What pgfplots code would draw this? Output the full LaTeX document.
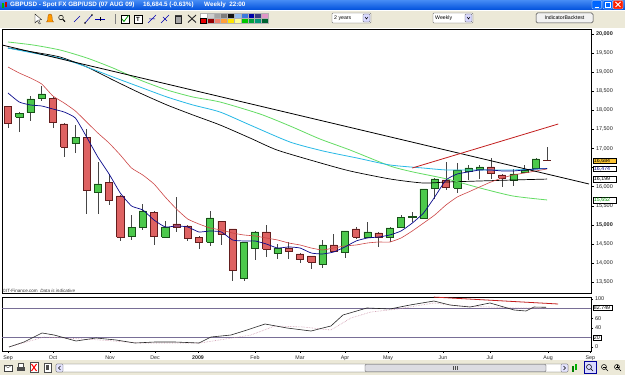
\documentclass[border=0pt]{standalone}
\usepackage{fontspec}
\setmainfont{Liberation Sans}
\usepackage{pgfplots}
\pgfplotsset{compat=1.18}
\usepackage{pgfplotstable}

\definecolor{upfill}{RGB}{76,201,76}
\definecolor{upedge}{RGB}{25,80,25}
\definecolor{dnfill}{RGB}{222,98,98}
\definecolor{dnedge}{RGB}{100,30,30}
\definecolor{wick}{RGB}{70,70,70}
\definecolor{maNavy}{RGB}{10,10,140}
\definecolor{maRed}{RGB}{205,70,70}
\definecolor{maCyan}{RGB}{40,185,230}
\definecolor{maGreen}{RGB}{100,220,100}
\definecolor{trRed}{RGB}{195,30,30}
\definecolor{oscLine}{RGB}{120,110,150}
\definecolor{oscPink}{RGB}{205,150,170}
\definecolor{xpTop}{RGB}{70,140,245}
\definecolor{xpBot}{RGB}{0,80,220}
\definecolor{xpGrey}{RGB}{236,233,216}
\definecolor{tagYellow}{RGB}{250,195,50}

\pgfplotsset{
 upcandle/.style={draw=upedge, fill=upfill, line width=0.5pt},
 dncandle/.style={draw=dnedge, fill=dnfill, line width=0.5pt},
 wickline/.style={draw=wick, line width=0.6pt},
}
\tikzset{tag/.style={draw=black, line width=0.3pt, fill=white, font=\fontsize{5.3}{5.5}\selectfont,
  inner xsep=0.8pt, inner ysep=0.6pt, text width=21pt, anchor=west, align=left}}

% weekly candles: index, open, high, low, close (x10000)
\pgfplotstableread{
i O H L C
0 18095 18114 17537 17655
1 17825 17956 17432 17930
2 17956 18376 17721 18297
3 18323 18638 18245 18428
4 18323 18349 17537 17695
5 17642 17660 16778 17040
6 17144 17616 16882 17301
7 17301 17511 15284 15913
8 15860 16646 15284 16070
9 16122 16332 15520 15651
10 15756 15770 14577 14681
11 14708 15258 14603 14943
12 14943 15546 14865 15363
13 15336 15350 14472 14708
14 14681 15099 14660 14943
15 15022 15729 14813 14943
16 14970 14985 14577 14655
17 14681 14695 14367 14550
18 14550 15363 14446 15179
19 15099 15110 14472 14760
20 14891 14900 13529 13817
21 13607 14560 13529 14550
22 14393 14830 14079 14813
23 14813 14996 14157 14367
24 14262 14498 14105 14393
25 14393 14550 14105 14314
26 14236 14250 14001 14105
27 14184 14195 13844 14027
28 13974 14603 13870 14472
29 14472 14760 14300 14314
30 14288 14850 14131 14839
31 14891 14943 14629 14681
32 14681 15074 14670 14813
33 14786 14800 14419 14681
34 14681 14943 14550 14917
35 14943 15258 14930 15205
36 15205 15336 15074 15215
37 15179 15950 15165 15940
38 15965 16215 15672 16201
39 16175 16646 15913 15992
40 15965 16620 15835 16437
41 16411 16568 16175 16490
42 16463 16568 16201 16516
43 16516 16752 16201 16359
44 16306 16320 15992 16227
45 16175 16463 16018 16332
46 16385 16568 16375 16437
47 16489 16740 16480 16725
48 16690 17040 16680 16684
}\candles

\pgfplotstableread{
i v
0 18454
1 18218
2 18140
3 18114
4 18035
5 17956
6 17799
7 17302
8 16777
9 16332
10 15834
11 15494
12 15389
13 15127
14 14944
15 14970
16 14944
17 14813
18 14839
19 14813
20 14603
21 14577
22 14577
23 14498
24 14393
25 14420
26 14393
27 14262
28 14236
29 14288
30 14420
31 14577
32 14655
33 14681
34 14734
35 14839
36 15046
37 15310
38 15729
39 16175
40 16332
41 16385
42 16437
43 16437
44 16411
45 16411
46 16437
47 16463
48 16474
}\maNavyT

\pgfplotstableread{
i v
0 19135
1 18978
2 18847
3 18690
4 18376
5 18192
6 17983
7 17694
8 17406
9 17144
10 16830
11 16489
12 16306
13 16070
14 15729
15 15415
16 15153
17 15022
18 14917
19 14865
20 14786
21 14734
22 14708
23 14655
24 14603
25 14524
26 14472
27 14393
28 14341
29 14393
30 14446
31 14472
32 14524
33 14550
34 14550
35 14655
36 14839
37 15046
38 15258
39 15520
40 15729
41 15860
42 15992
43 16122
44 16227
45 16306
46 16358
47 16411
48 16463
}\maRedT

\pgfplotstableread{
i v
0 19633
2.23 19502
4.63 19371
7.03 19135
9.35 18873
11.75 18611
14.16 18349
16.47 18140
18.88 17956
21.55 17616
25.11 17170
28.05 16935
31.08 16751
34.02 16568
36.95 16489
39.09 16437
42.03 16437
44.97 16437
48 16474
}\maCyanT

\pgfplotstableread{
i v
0 19790
2.23 19712
4.63 19581
7.03 19371
9.35 19109
11.75 18795
14.16 18533
16.47 18349
18.88 18218
22.44 17904
25.11 17590
27.78 17249
30.45 16961
34.02 16542
36.06 16385
39.09 16201
42.03 15965
44.97 15755
48 15652
}\maGreenT

\pgfplotstableread{
i v
0 19633
2.23 19528
4.63 19397
7.03 19135
9.35 18795
11.75 18454
14.16 18140
16.47 17878
18.88 17616
21.55 17275
23.95 16961
27.52 16647
30.45 16411
34.02 16201
36.95 16096
39.09 16122
42.03 16149
44.97 16175
48 16199
}\maBlackT

\pgfplotstableread{
i v
0.09 0
1.42 10.4
3.03 29.2
4.10 25.0
6.06 12.5
7.84 18.8
9.62 14.6
11.31 8.3
13.09 10.4
14.87 10.4
17.01 8.3
18.08 20.8
19.86 25.0
21.28 35.4
22.89 47.9
24.84 39.6
26.98 33.3
28.76 43.8
29.83 66.7
31.97 81.3
34.02 79.2
35.80 87.5
37.93 95.8
39.36 87.5
41.14 83.3
42.92 91.7
45.06 77.1
46.13 75.0
46.84 83.3
47.91 82.7
}\oscK

\pgfplotstableread{
i v
0.09 0
3.20 20.8
4.99 18.8
8.19 14.6
11.75 8.3
17.10 8.3
21.64 25.0
23.78 43.8
26.27 41.7
28.76 35.4
30.54 60.4
32.32 72.9
34.73 79.2
37.93 91.7
40.07 85.4
42.92 83.3
45.41 81.3
47.91 81.3
}\oscD

\begin{document}
\begin{tikzpicture}[x=1pt,y=1pt]
\fill[white] (0,0) rectangle (625,375);

% ---------- title bar ----------
\shade[top color=xpTop, bottom color=xpBot] (0,365) rectangle (625,375);
\fill[green!70!black] (2,367) rectangle (4,372);
\fill[red!80!black] (5,368) rectangle (7,373);
\node[anchor=west, text=white, inner sep=0, font=\bfseries\fontsize{6.3}{7}\selectfont] at (10,370) {GBPUSD - Spot FX GBP/USD (07 AUG 09)};
\node[anchor=west, text=white, inner sep=0, font=\bfseries\fontsize{6.3}{7}\selectfont] at (143,370) {16,684.5 (-0.63\%)};
\node[anchor=west, text=white, inner sep=0, font=\bfseries\fontsize{6.3}{7}\selectfont] at (204,370) {Weekly\ \ 22:00};
\foreach \bx in {592,603}{\fill[rounded corners=1pt, blue!60!cyan, draw=white, line width=0.3pt] (\bx,366) rectangle ++(9.5,8.5);}
\draw[white, line width=0.8pt] (594.5,368) -- (598.5,368);
\draw[white, line width=0.5pt] (605.5,368) rectangle (610,372.5);
\fill[rounded corners=1pt, red!75!orange, draw=white, line width=0.3pt] (613,366) rectangle ++(10,8.5);
\draw[white, line width=0.9pt] (615.5,368) -- (620.5,373) (615.5,373) -- (620.5,368);

% ---------- toolbar ----------
\fill[xpGrey] (0,347) rectangle (625,365);
\draw[white] (0,364.5) -- (625,364.5);
\fill[white, draw=black, line width=0.3pt] (35,361)--(35,352)--(37.3,354.5)--(39.2,351)--(40.4,351.6)--(38.6,355)--(41.5,355.3)--cycle;
\fill[orange!80!yellow, draw=orange!60!black, line width=0.3pt] (46.5,353) -- (53.5,353) -- (52.3,355) -- (52,359) arc (0:180:2) -- (47.7,355) -- cycle;
\draw[black, line width=0.5pt] (61,357.5) circle (2.3);
\draw[black, line width=1pt] (62.7,355.8) -- (65,353.3);
\draw[blue!70!black, line width=0.6pt] (74,353) -- (80,359);
\draw[blue!70!black, line width=0.6pt] (85,352) -- (92,360);
\fill[black] (85,352) circle (0.8) (92,360) circle (0.8);
\draw[blue!70!black, line width=0.6pt] (95,356) -- (105,356);
\draw[black, line width=0.5pt] (100,354) -- (100,358);
\draw[gray, line width=0.6pt] (115,351) -- (115,361);
\draw[black, line width=0.4pt, fill=white] (121,352) rectangle (129,360);
\draw[green!60!black, line width=0.8pt] (122,356) -- (124,353.5) -- (128.5,359.5);
\draw[black, line width=0.4pt, fill=white] (134,352) rectangle (142,360);
\node[font=\bfseries\fontsize{6}{6}\selectfont, inner sep=0] at (138,356) {T};
\draw[blue!70!black, line width=0.5pt] (148,352) -- (156,360) (149,356) -- (155,356);
\draw[blue!70!black, line width=0.5pt] (161,352) -- (169,360) (163,358) -- (167,354);
\fill[gray!70, draw=gray!30!black, line width=0.3pt] (175,352) rectangle (181,359);
\fill[gray!50!black] (174.5,359) rectangle (181.5,360.3);
\draw[gray!30!black, line width=0.9pt] (188,352.5) -- (196,360);
\draw[gray!30!black, line width=0.9pt] (188,360) -- (196,352.5);
% palette
\foreach \r/\g/\b [count=\k from 0] in {255/255/255,205/205/205,165/165/165,125/125/125,20/20/20,150/190/240,60/120/220,0/0/170,60/60/130,225/150/200}{
  \definecolor{pc}{RGB}{\r,\g,\b}
  \fill[pc, draw=gray!60, line width=0.2pt] (200+\k*6.8,356.5) rectangle ++(6.8,5);
}
\foreach \r/\g/\b [count=\k from 0] in {230/0/0,150/0/0,240/130/110,255/160/60,255/230/0,255/255/150,0/200/0,0/160/60,0/150/120,0/100/50}{
  \definecolor{pc}{RGB}{\r,\g,\b}
  \fill[pc, draw=gray!60, line width=0.2pt] (200+\k*6.8,351.5) rectangle ++(6.8,5);
}
\draw[black, line width=0.6pt] (200.5,351.2) rectangle (206.5,356.6);
% dropdowns
\draw[gray!70!black, fill=white, line width=0.4pt, rounded corners=0.8pt] (332,352) rectangle (371,362);
\node[anchor=west, inner sep=0, font=\fontsize{5.2}{6}\selectfont] at (334,357) {2 years};
\draw[gray!70!black, fill=white!85!blue, line width=0.3pt, rounded corners=0.8pt] (363,353) rectangle (370,361);
\draw[black, line width=0.5pt] (365,358) -- (366.5,356) -- (368,358);
\draw[gray!70!black, fill=white, line width=0.4pt, rounded corners=0.8pt] (433,352) rectangle (473,362);
\node[anchor=west, inner sep=0, font=\fontsize{5.2}{6}\selectfont] at (435,357) {Weekly};
\draw[gray!70!black, fill=white!85!blue, line width=0.3pt, rounded corners=0.8pt] (465,353) rectangle (472,361);
\draw[black, line width=0.5pt] (467,358) -- (468.5,356) -- (470,358);
\draw[gray!50!black, fill=white!95!black, line width=0.5pt, rounded corners=1.5pt] (536,352) rectangle (593,362);
\node[inner sep=0, font=\fontsize{5.2}{6}\selectfont] at (564.5,357) {IndicatorBacktest};

% ---------- bottom bar ----------
\fill[xpGrey] (0,0) rectangle (625,15);
\draw[gray!50!black, fill=white, line width=0.3pt] (4,4) rectangle (12,10);
\draw[gray!50!black, line width=0.3pt] (4,10) -- (8,7) -- (12,10);
\fill[gray!60!black] (17,4) rectangle (25,8);
\fill[white, draw=gray!60!black, line width=0.3pt] (18.5,8) rectangle (23.5,11.5);
\draw[gray!60!black, line width=0.3pt, fill=white] (30,2.5) rectangle (38,12.5);
\draw[red, line width=1pt] (31.5,4) -- (36.5,11) (31.5,11) -- (36.5,4);
\draw[gray!60!black, line width=0.3pt, fill=white] (44,3) rectangle (51,12);
\fill[gray!60!black] (46,5) rectangle (49,10);
\draw[gray!60!black, fill=white, line width=0.3pt, rounded corners=1pt] (56,3) rectangle (568,11);
\fill[blue!10!gray!25, draw=gray!60!black, line width=0.3pt, rounded corners=1pt] (365,3.3) rectangle (546,10.7);
\draw[gray!60!black, line width=0.3pt] (453,5) -- (453,9) (455,5) -- (455,9) (457,5) -- (457,9);
\draw[gray!60!black, fill=white!90!blue, line width=0.3pt, rounded corners=1pt] (56,3) rectangle (63,11);
\draw[black, line width=0.5pt] (60.5,5) -- (58.5,7) -- (60.5,9);
\draw[gray!60!black, fill=white!90!blue, line width=0.3pt, rounded corners=1pt] (561,3) rectangle (568,11);
\draw[black, line width=0.5pt] (563.5,5) -- (565.5,7) -- (563.5,9);
\fill[green!50!black] (572,3) rectangle (574,9);
\fill[green!70!black] (575,5) rectangle (577,11);
\draw[blue!60!black, fill=blue!15, line width=0.4pt] (584,1.5) rectangle (596,13.5);
\draw[black, line width=0.5pt] (589,8) circle (2.5) (590.8,6.2) -- (593,4);
\draw[black, line width=0.5pt] (604,8) circle (2.5) (605.8,6.2) -- (608,4);
\draw[black, line width=0.4pt] (602.5,8) -- (605.5,8);
\draw[black, line width=0.5pt] (617,8) circle (2.5) (618.8,6.2) -- (621,4);
\draw[black, line width=0.4pt] (615.5,8) -- (618.5,8) (617,6.5) -- (617,9.5);

% ---------- main price pane ----------
\begin{axis}[
  at={(2pt,82pt)}, anchor=south west, scale only axis,
  width=589pt, height=264pt,
  xmin=-0.534, xmax=51.915, ymin=13214, ymax=20131,
  clip mode=individual,
  scaled y ticks=false, scaled x ticks=false,
  axis line style={black, line width=0.6pt},
  xtick=\empty,
  ytick={13500,14000,14500,15000,15500,16000,16500,17000,17500,18000,18500,19000,19500,20000},
  yticklabels={{13,500},{14,000},{14,500},{\bfseries 15,000},{15,500},{16,000},{},{17,000},{17,500},{18,000},{18,500},{19,000},{19,500},{\bfseries 20,000}},
  ytick pos=right, yticklabel pos=right, tick align=outside,
  major tick length=3pt, tick style={black, line width=0.4pt},
  yticklabel style={font=\fontsize{5.5}{6}\selectfont, text=black!85, xshift=-1.5pt},
]
\pgfplotsinvokeforeach{0,...,48}{%
  \pgfplotstablegetelem{#1}{i}\of\candles \edef\cI{\pgfplotsretval}%
  \pgfplotstablegetelem{#1}{O}\of\candles \edef\cO{\pgfplotsretval}%
  \pgfplotstablegetelem{#1}{H}\of\candles \edef\cH{\pgfplotsretval}%
  \pgfplotstablegetelem{#1}{L}\of\candles \edef\cL{\pgfplotsretval}%
  \pgfplotstablegetelem{#1}{C}\of\candles \edef\cC{\pgfplotsretval}%
  \ifnum\cC<\cO\relax
    \edef\cSty{dncandle}\edef\cLo{\cC}\edef\cHi{\cO}%
  \else
    \edef\cSty{upcandle}\edef\cLo{\cO}\edef\cHi{\cC}%
  \fi
  \pgfmathsetmacro\xl{\cI-0.32}%
  \pgfmathsetmacro\xr{\cI+0.32}%
  \edef\doplot{%
    \noexpand\addplot[wickline] coordinates {(\cI,\cL) (\cI,\cH)};
    \noexpand\addplot[\cSty] coordinates {(\xl,\cLo) (\xr,\cLo) (\xr,\cHi) (\xl,\cHi) (\xl,\cLo)};
  }%
  \doplot
}
\addplot[black, line width=0.7pt, smooth, tension=0.4] table[x=i,y=v]{\maBlackT};
\addplot[maGreen, line width=0.8pt, smooth, tension=0.4] table[x=i,y=v]{\maGreenT};
\addplot[maCyan, line width=0.8pt, smooth, tension=0.4] table[x=i,y=v]{\maCyanT};
\addplot[maRed, line width=0.6pt, smooth, tension=0.3] table[x=i,y=v]{\maRedT};
\addplot[maNavy, line width=0.7pt, smooth, tension=0.3] table[x=i,y=v]{\maNavyT};
\addplot[black, line width=0.8pt] coordinates {(-0.534,19712) (51.74,16070)};
\addplot[trRed, line width=0.8pt] coordinates {(36,16489) (49,17642)};
\node[tag, fill=tagYellow] at (axis cs:51.915,16684) [xshift=2pt] {16,684};
\node[tag, text=maNavy] at (axis cs:51.915,16474) [xshift=2pt] {16,474};
\node[tag] at (axis cs:51.915,16199) [xshift=2pt] {16,199};
\node[tag, text=green!60!black] at (axis cs:51.915,15652) [xshift=2pt] {15,652};
\node[anchor=south west, inner sep=0.5pt, font=\fontsize{4.6}{5}\selectfont, text=black!80] at (rel axis cs:0,0) {\copyright IT-Finance.com\ \ \textit{Data is indicative}};
\end{axis}

% ---------- oscillator pane ----------
\begin{axis}[
  at={(2pt,24pt)}, anchor=south west, scale only axis,
  width=589pt, height=54pt,
  xmin=-0.534, xmax=51.915, ymin=-8.33, ymax=104.17,
  clip mode=individual,
  scaled y ticks=false, scaled x ticks=false,
  axis line style={black, line width=0.6pt},
  xtick={0,4.01,9.08,13.09,16.92,21.99,26.0,30.01,33.84,38.73,42.92,48.09,51.85},
  xticklabels={Sep,Oct,Nov,Dec,{\bfseries 2009},Feb,Mar,Apr,May,Jun,Jul,Aug,Sep},
  ytick={0,40,60,100}, yticklabels={0,40,60,100},
  xtick pos=bottom, ytick pos=right, yticklabel pos=right, tick align=outside,
  major tick length=2pt, tick style={black, line width=0.4pt},
  xticklabel style={font=\fontsize{5.3}{6}\selectfont, text=black!85, yshift=1pt},
  yticklabel style={font=\fontsize{5.5}{6}\selectfont, text=black!85, xshift=-1.5pt},
]
\addplot[oscLine, line width=0.6pt] coordinates {(-0.534,80) (51.915,80)};
\addplot[oscLine, line width=0.6pt] coordinates {(-0.534,20) (51.915,20)};
\addplot[oscPink, line width=0.6pt, densely dotted] table[x=i,y=v]{\oscD};
\addplot[black!85, line width=0.6pt] table[x=i,y=v]{\oscK};
\addplot[trRed, line width=0.8pt] coordinates {(37.93,104) (48.98,89.6)};
\node[tag, text width=17pt] at (axis cs:51.915,82.7) [xshift=2pt] {82.749};
\node[tag, text width=6pt] at (axis cs:51.915,20) [xshift=2pt] {20};
\end{axis}

\pgfresetboundingbox
\path[use as bounding box] (0,0) rectangle (625,375);
\end{tikzpicture}
\end{document}
